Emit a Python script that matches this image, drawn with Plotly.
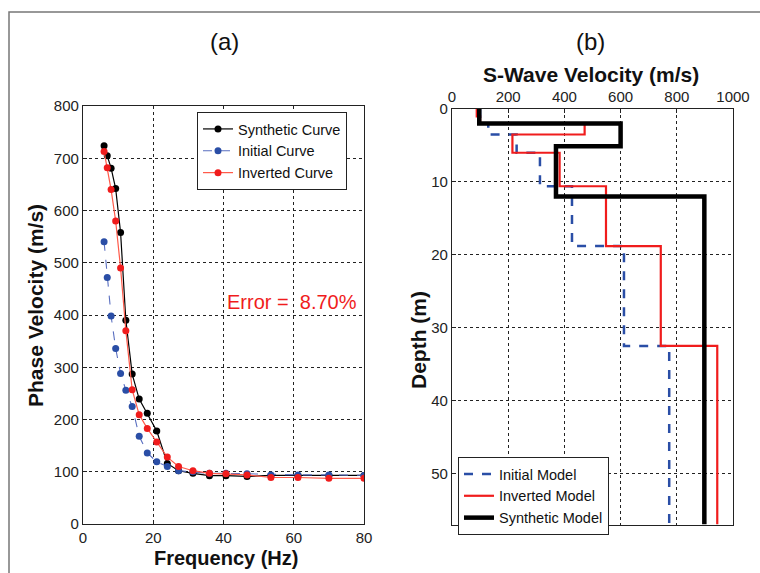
import plotly.graph_objects as go

W, H = 760, 573

# ---- Panel (a) data: dispersion curves ----
freq = [6.0, 6.9, 8.0, 9.3, 10.7, 12.2, 14.0, 16.0, 18.3, 21.0, 24.0, 27.2, 31.3, 36.0, 40.7, 46.7, 53.5, 61.2, 70.0, 80.0]
synthetic_curve = [724, 705, 681, 642, 558, 390, 287, 239, 212, 178, 116, 102, 97, 92.5, 92.5, 91, 93, 93, 93, 93]
initial_curve = [540, 472, 398, 336, 288, 256, 225, 168, 136, 119, 110, 102, 100, 97, 97, 96, 94, 94, 94, 93]
inverted_curve = [713, 682, 640, 580, 490, 370, 257, 209, 183, 157, 128, 110, 102, 97, 96, 94, 89, 89, 87.5, 87.5]

# ---- Panel (b) data: layered velocity models (layer boundaries in m, velocities in m/s) ----
initial_depth = [0, 2.0, 3.5, 6.0, 10.6, 18.8, 32.5, 57]
initial_vs = [100, 129, 230, 313, 427, 612, 773]
inverted_depth = [0, 1.0, 2.0, 3.5, 6.0, 10.6, 18.8, 32.5, 57]
inverted_vs = [88, 100, 472, 215, 383, 548, 743, 944]
synthetic_depth = [0, 2.0, 5.1, 12.0, 57]
synthetic_vs = [97, 600, 370, 898]

a_xticks = [0, 20, 40, 60, 80]
a_yticks = [0, 100, 200, 300, 400, 500, 600, 700, 800]
b_xticks = [0, 200, 400, 600, 800, 1000]
b_yticks = [0, 10, 20, 30, 40, 50]

FONT = "Liberation Sans, Arial, sans-serif"
BLUE = "#2a4ea6"
RED = "#f01c1c"

def px(x):
    return x / W

def py(y):
    return 1 - y / H

fig = go.Figure()

fig.add_trace(go.Scatter(x=freq, y=synthetic_curve, mode="lines+markers", name="Synthetic Curve",
                         line=dict(color="black", width=1.2), marker=dict(color="black", size=7),
                         xaxis="x", yaxis="y", legend="legend"))
fig.add_trace(go.Scatter(x=freq, y=initial_curve, mode="lines+markers", name="Initial Curve",
                         line=dict(color="#5a6fc0", width=1.1, dash="dash"), marker=dict(color=BLUE, size=7),
                         xaxis="x", yaxis="y", legend="legend"))
fig.add_trace(go.Scatter(x=freq, y=inverted_curve, mode="lines+markers", name="Inverted Curve",
                         line=dict(color="#ff5a4a", width=1.2), marker=dict(color=RED, size=7),
                         xaxis="x", yaxis="y", legend="legend"))

fig.add_trace(go.Scatter(x=initial_vs + [initial_vs[-1]], y=initial_depth, mode="lines", name="Initial Model",
                         line=dict(color=BLUE, width=2.5, dash="dash", shape="vh"),
                         xaxis="x2", yaxis="y2", legend="legend2"))
fig.add_trace(go.Scatter(x=inverted_vs + [inverted_vs[-1]], y=inverted_depth, mode="lines", name="Inverted Model",
                         line=dict(color=RED, width=2.2, shape="vh"),
                         xaxis="x2", yaxis="y2", legend="legend2"))
fig.add_trace(go.Scatter(x=synthetic_vs + [synthetic_vs[-1]], y=synthetic_depth, mode="lines", name="Synthetic Model",
                         line=dict(color="black", width=4.5, shape="vh"),
                         xaxis="x2", yaxis="y2", legend="legend2"))

axis_common = dict(showline=True, linecolor="#222", linewidth=1.2, mirror=True,
                   showgrid=True, gridcolor="#222", gridwidth=1, griddash="dot",
                   ticks="inside", ticklen=4, tickcolor="#222", zeroline=False,
                   automargin=False,
                   tickfont=dict(family=FONT, size=15, color="#222"))

TITLE_FONT = dict(family=FONT, size=21, color="#111")

fig.update_layout(
    template="none",
    width=W, height=H,
    margin=dict(l=0, r=0, t=0, b=0, pad=0, autoexpand=False),
    paper_bgcolor="white", plot_bgcolor="white",
    font=dict(family=FONT, color="#111"),
    xaxis=dict(domain=[px(83), px(364)], range=[0, 80], tickvals=a_xticks, anchor="y", **axis_common),
    yaxis=dict(domain=[py(524), py(106)], range=[0, 800], tickvals=a_yticks, anchor="x", **axis_common),
    xaxis2=dict(domain=[px(452), px(733)], range=[0, 1000], tickvals=b_xticks, anchor="y2", side="top",
                **axis_common),
    yaxis2=dict(domain=[py(524.5), py(109)], range=[57, 0], tickvals=b_yticks, anchor="x2", **axis_common),
    legend=dict(x=px(197), y=py(112), xanchor="left", yanchor="top",
                bgcolor="white", bordercolor="#222", borderwidth=1,
                font=dict(family=FONT, size=14.5, color="#111"), tracegroupgap=0),
    legend2=dict(x=px(458), y=py(457), xanchor="left", yanchor="top",
                 bgcolor="white", bordercolor="#222", borderwidth=1,
                 font=dict(family=FONT, size=14.5, color="#111"), tracegroupgap=0),
    showlegend=True,
    annotations=[
        dict(text="(a)", x=px(225), y=py(42), xref="paper", yref="paper", showarrow=False,
             xanchor="center", yanchor="middle", font=dict(family=FONT, size=24, color="#111")),
        dict(text="(b)", x=px(590), y=py(42), xref="paper", yref="paper", showarrow=False,
             xanchor="center", yanchor="middle", font=dict(family=FONT, size=24, color="#111")),
        dict(text="Error =&nbsp; 8.70%", x=px(359), y=py(302), xref="paper", yref="paper", showarrow=False,
             xanchor="right", yanchor="middle", font=dict(family=FONT, size=20, color=RED)),
        dict(text="<b>Frequency (Hz)</b>", x=px(226), y=py(558), xref="paper", yref="paper", showarrow=False,
             xanchor="center", yanchor="middle", font=dict(family=FONT, size=20, color="#111")),
        dict(text="<b>Phase Velocity (m/s)</b>", x=px(35), y=py(306), xref="paper", yref="paper",
             showarrow=False, textangle=-90, xanchor="center", yanchor="middle", font=TITLE_FONT),
        dict(text="<b>S-Wave Velocity (m/s)</b>", x=px(591), y=py(75), xref="paper", yref="paper",
             showarrow=False, xanchor="center", yanchor="middle", font=TITLE_FONT),
        dict(text="<b>Depth (m)</b>", x=px(418), y=py(340), xref="paper", yref="paper",
             showarrow=False, textangle=-90, xanchor="center", yanchor="middle", font=TITLE_FONT),
    ],
    shapes=[
        dict(type="rect", xref="paper", yref="paper", x0=px(9), y0=-0.2, x1=1.2, y1=py(12),
             line=dict(color="#777", width=1.5), layer="below"),
    ],
)

fig.write_html("out.html", config={"displayModeBar": False},
               post_script="document.body.style.margin='0';document.body.style.padding='0';"
                           "document.body.style.overflow='hidden';"
                           "document.documentElement.style.overflow='hidden';")
